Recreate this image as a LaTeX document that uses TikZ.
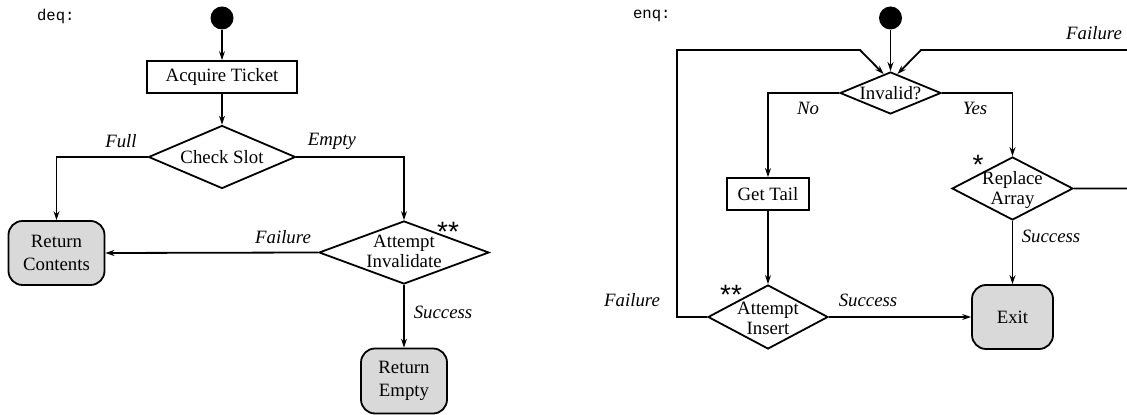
\documentclass[tikz,border=0pt]{standalone}
\usepackage{fontspec}
\setmainfont{Liberation Serif}
\newfontfamily\codefont{Liberation Mono}
\newfontfamily\starfont{Liberation Sans}
\usetikzlibrary{shapes.geometric,arrows.meta}
\definecolor{boxgray}{RGB}{217,217,217}
\begin{document}
\begin{tikzpicture}[x=0.5pt,y=-0.5pt,
  every node/.style={font=\fontsize{9.4}{10}\selectfont},
  line/.style={line width=0.9pt},
  arr/.style={line, -{Stealth[length=4.5pt,width=3pt]}},
  actbox/.style={draw, line width=0.9pt, rectangle, inner sep=0pt, align=center},
  endbox/.style={draw, line width=0.9pt, rectangle, rounded corners=7pt, fill=boxgray, inner sep=0pt, align=center, font=\fontsize{9.4}{11.5}\selectfont},
  dec/.style={draw, line width=0.9pt, diamond, inner sep=0pt},
  dectext/.style={align=center, inner sep=0pt},
  startdot/.style={circle, fill=black, minimum size=11.5pt, inner sep=0pt},
  lbl/.style={font=\fontsize{9.4}{10}\selectfont\itshape},
  code/.style={font=\fontsize{7.8}{9}\selectfont\codefont, anchor=west},
  stars/.style={font=\fontsize{14}{14}\selectfont\starfont, inner sep=0pt, text height=10.2pt, text depth=-5.6pt}
]
\useasboundingbox (0,0) rectangle (1127,415);
\clip (0,0) rectangle (1127,415);

% ---------- deq ----------
\node[code] (deq) at (30,16) {deq:};
\node[startdot] (s1) at (222,18) {};
\node[actbox, minimum width=75pt, minimum height=16pt] (acq) at (222,77) {Acquire Ticket};
\node[dec, minimum width=73.5pt, minimum height=31.5pt] (chk) at (222,157) {};
\node[dectext] (chkT) at (chk) {Check Slot};
\node[endbox, minimum width=48pt, minimum height=32pt] (rc) at (56.5,253) {Return\\Contents};
\node[dec, minimum width=85pt, minimum height=31.5pt] (ai) at (404,252.5) {};
\node[dectext] (aiT) at (404,251.5) {Attempt\\Invalidate};
\node[endbox, minimum width=43pt, minimum height=32.5pt] (re) at (404,381) {Return\\Empty};

\node[lbl] (lfull) at (121,141) {Full};
\node[lbl] (lempty) at (332,141) {Empty};
\node[lbl] (lfail1) at (283,237) {Failure};
\node[lbl] (lsucc1) at (443,312) {Success};
\node[stars] (st1) at (448,231) {**};

\draw[arr] (s1) -- (acq);
\draw[arr] (acq) -- (chk);
\draw[arr] (chk.west) -| (rc.north);
\draw[arr] (chk.east) -| (ai.north);
\draw[arr] (ai.west) -- (rc.east);
\draw[arr] (ai.south) -- (re.north);

% ---------- enq ----------
\node[code] (enq) at (626,16) {enq:};
\node[startdot] (s2) at (890.5,18) {};
\node[dec, minimum width=50.5pt, minimum height=21pt] (inv) at (890.5,93) {};
\node[dectext] (invT) at (inv) {Invalid?};
\node[actbox, minimum width=41pt, minimum height=16pt] (gt) at (768,194) {Get Tail};
\node[dec, minimum width=60.5pt, minimum height=31.5pt] (rep) at (1012.5,188.5) {};
\node[dectext] (repT) at (1012.5,190) {Replace\\Array};
\node[dec, minimum width=60pt, minimum height=32pt] (ains) at (768,317) {};
\node[dectext] (ainsT) at (768,318) {Attempt\\Insert};
\node[endbox, minimum width=40.5pt, minimum height=32pt] (exit) at (1012.5,317) {Exit};

\node[lbl] (lno) at (808,108) {No};
\node[lbl] (lyes) at (975,108) {Yes};
\node[lbl] (lfail2) at (1094,33) {Failure};
\node[lbl] (lsucc2) at (1051,236) {Success};
\node[lbl] (lfail3) at (632,300) {Failure};
\node[lbl] (lsucc3) at (868,300) {Success};
\node[stars] (st2) at (978,164) {*};
\node[stars] (st3) at (731,294) {**};

\coordinate (lpA) at (677,317);
\coordinate (lpB) at (677,50);
\coordinate (lpC) at (860,50);
\coordinate (rpA) at (1140,188.5);
\coordinate (rpB) at (1140,50);
\coordinate (rpC) at (921,50);

\draw[arr] (s2) -- (inv.north);
\draw[arr] (inv.west) -| (gt.north);
\draw[arr] (inv.east) -| (rep.north);
\draw[arr] (gt) -- (ains);
\draw[arr] (rep.south) -- (exit.north);
\draw[arr] (ains.east) -- (exit.west);
\draw[arr] (ains.west) -- (lpA) -- (lpB) -- (lpC) -- (inv.110);
\draw[arr] (rep.east) -- (rpA) -- (rpB) -- (rpC) -- (inv.70);
\end{tikzpicture}
\end{document}
